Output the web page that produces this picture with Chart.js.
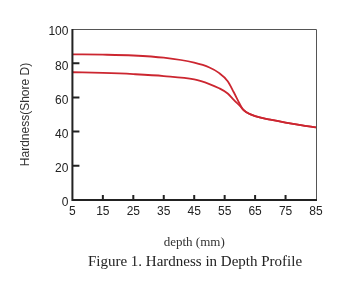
<!DOCTYPE html>
<html><head><meta charset="utf-8">
<script src="https://cdn.jsdelivr.net/npm/chart.js@4"></script>
<style>
html,body{margin:0;padding:0;background:#fff}
#w{position:relative;width:350px;height:286px}
#cap{position:absolute;left:0;width:390px;top:252px;text-align:center;font-family:'Liberation Serif',serif;font-size:15px;color:#222;line-height:18px;white-space:nowrap}
</style>
</head><body><div id="w"><canvas id="c"></canvas><div id="cap"></div></div>
<script>
const depthUpper = [5, 15, 25, 35, 45, 50, 53, 56, 58, 60, 61, 62, 65, 70, 75, 80, 85];
const hardUpper  = [85.2, 85, 84.5, 83.2, 80.3, 77.5, 74.5, 69.5, 63, 56, 53, 51.5, 49, 47, 45.3, 43.8, 42.5];
const depthLower = [5, 15, 25, 35, 45, 50, 53, 56, 58, 60, 61, 62, 65, 70, 75, 80, 85];
const hardLower  = [74.7, 74.3, 73.6, 72.5, 70.5, 67.8, 65.5, 62.3, 58.5, 55, 53, 51.5, 49, 47, 45.3, 43.8, 42.5];
const xTicks = [5, 15, 25, 35, 45, 55, 65, 75, 85];
const yTicks = [0, 20, 40, 60, 80, 100];
const xTitle = 'depth (mm)';
const yTitle = 'Hardness(Shore D)';
const caption = 'Figure 1. Hardness in Depth Profile';

document.getElementById('cap').textContent = caption;
const pts = (xs, ys) => xs.map((x, i) => ({x, y: ys[i]}));
const red = '#cc2630';

const frame = {
  id: 'frame',
  afterDatasetsDraw(chart) {
    const {ctx, chartArea: a, scales: {x, y}} = chart;
    ctx.save();
    ctx.strokeStyle = '#555';
    ctx.lineWidth = 1;
    ctx.beginPath();
    ctx.moveTo(a.left, a.top + 0.5); ctx.lineTo(a.right + 0.5, a.top + 0.5); ctx.lineTo(a.right + 0.5, a.bottom);
    ctx.stroke();
    ctx.strokeStyle = '#222';
    ctx.lineWidth = 2;
    ctx.beginPath();
    ctx.moveTo(a.left, a.top); ctx.lineTo(a.left, a.bottom); ctx.lineTo(a.right + 1, a.bottom);
    xTicks.slice(1, -1).forEach(v => {
      const px = x.getPixelForValue(v);
      ctx.moveTo(px, a.bottom); ctx.lineTo(px, a.bottom - 5);
    });
    yTicks.slice(1, -1).forEach(v => {
      const py = y.getPixelForValue(v);
      ctx.moveTo(a.left, py); ctx.lineTo(a.left + 7, py);
    });
    ctx.stroke();
    ctx.restore();
  }
};

new Chart(document.getElementById('c'), {
  type: 'line',
  data: {
    datasets: [
      {data: pts(depthUpper, hardUpper), borderColor: red, borderWidth: 1.8, pointRadius: 0, cubicInterpolationMode: 'monotone'},
      {data: pts(depthLower, hardLower), borderColor: red, borderWidth: 1.8, pointRadius: 0, cubicInterpolationMode: 'monotone'}
    ]
  },
  options: {
    responsive: true, maintainAspectRatio: false, animation: false,
    layout: {padding: {left: 18, right: 34, top: 29, bottom: 36}},
    plugins: {legend: {display: false}, tooltip: {enabled: false}},
    scales: {
      x: {
        type: 'linear', min: 5, max: 85,
        afterBuildTicks: s => { s.ticks = xTicks.map(v => ({value: v})); },
        grid: {display: false, drawTicks: false},
        border: {display: false},
        ticks: {color: '#222', font: {family: 'Liberation Sans', size: 12}, padding: 4, maxRotation: 0, autoSkip: false},
        title: {display: true, text: xTitle, color: '#333', font: {family: 'Liberation Serif', size: 13}, padding: {top: 12, bottom: 0}}
      },
      y: {
        min: 0, max: 100,
        afterBuildTicks: s => { s.ticks = yTicks.map(v => ({value: v})); },
        grid: {display: false, drawTicks: false},
        border: {display: false},
        ticks: {color: '#222', font: {family: 'Liberation Sans', size: 12}, padding: 4, labelOffset: 3},
        title: {display: true, text: yTitle, color: '#333', font: {family: 'Liberation Sans', size: 12}, padding: {top: 0, bottom: 12}}
      }
    }
  },
  plugins: [frame]
});
</script>
</body></html>
